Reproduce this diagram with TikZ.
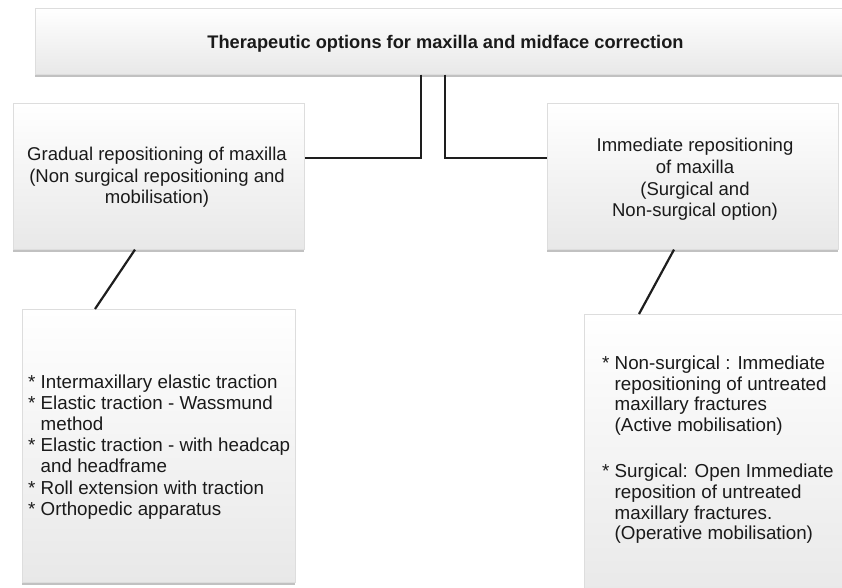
\documentclass[tikz,border=0pt]{standalone}
\usepackage{fontspec}
\setmainfont{Liberation Sans}
\usetikzlibrary{shadows}
\definecolor{linec}{HTML}{1E1E1E}
\definecolor{boxbot}{HTML}{E8E8E8}
\definecolor{boxedge}{HTML}{DDDDDD}
\definecolor{txtc}{HTML}{1A1A1A}
\tikzset{
  panel/.style={draw=boxedge, line width=0.6bp, top color=white, bottom color=boxbot,
    drop shadow={shadow xshift=0bp, shadow yshift=-2.5bp, opacity=0.35, fill=black!70},
    inner sep=0, anchor=north west},
  link/.style={draw=linec, line width=2.2bp},
  txt/.style={text=txtc, inner sep=0},
  bodyfont/.style 2 args={font=\fontsize{#1}{#2}\selectfont},
}
\begin{document}
\begin{tikzpicture}[x=1bp,y=-1bp]
\useasboundingbox (0,0) rectangle (842,588);
\begin{scope}
\clip (0,0) rectangle (842,588);
% boxes
\node[panel, minimum width=820bp, minimum height=66bp] (top) at (35,8) {};
\node[panel, minimum width=291bp, minimum height=146bp] (midL) at (13,103) {};
\node[panel, minimum width=291bp, minimum height=146bp] (midR) at (547,103) {};
\node[panel, minimum width=273bp, minimum height=273bp] (lowL) at (22,309) {};
\node[panel, minimum width=270bp, minimum height=290bp] (lowR) at (584,314) {};
% texts (base anchor = baseline of the last line)
\node[txt, anchor=base, font=\fontsize{18.3}{22}\selectfont\bfseries] (topT) at (445.5,48.3)
  {Therapeutic options for maxilla and midface correction};
\node[txt, anchor=base, align=center, bodyfont={18.6}{21.5}] (midLT) at (157,203.7)
  {Gradual repositioning of maxilla\\(Non surgical repositioning and\\mobilisation)};
\node[txt, anchor=base, align=center, bodyfont={18.6}{21.7}] (midRT) at (695,216.8)
  {Immediate repositioning\\of maxilla\\(Surgical and\\Non-surgical option)};
\node[txt, anchor=base west, align=left, bodyfont={18.85}{21.2}] (lowLT) at (28,515.2)
  {* Intermaxillary elastic traction\\
   * Elastic traction - Wassmund\\
   \hphantom{* }method\\
   * Elastic traction - with headcap\\
   \hphantom{* }and headframe\\
   * Roll extension with traction\\
   * Orthopedic apparatus};
\node[txt, anchor=base west, align=left, bodyfont={18.85}{20.8}] (lowRT) at (602,539.8)
  {* Non-surgical : Immediate\\
   \hphantom{* }repositioning of untreated\\
   \hphantom{* }maxillary fractures\\
   \hphantom{* }(Active mobilisation)\\[25.2bp]
   * Surgical: Open Immediate\\
   \hphantom{* }reposition of untreated\\
   \hphantom{* }maxillary fractures.\\
   \hphantom{* }(Operative mobilisation)};
% connectors
\coordinate (jl) at (421,157.7);
\coordinate (jr) at (445,157.7);
\draw[link] (top.south -| jl) -- (jl) -- (jl -| midL.east);
\draw[link] (top.south -| jr) -- (jr) -- (jr -| midR.west);
\coordinate (dl1) at (135,0);
\coordinate (dl2) at (95,0);
\coordinate (dr1) at (674,0);
\coordinate (dr2) at (639,0);
\draw[link] (midL.south -| dl1) -- (lowL.north -| dl2);
\draw[link] (midR.south -| dr1) -- (lowR.north -| dr2);
\end{scope}
\end{tikzpicture}
\end{document}
